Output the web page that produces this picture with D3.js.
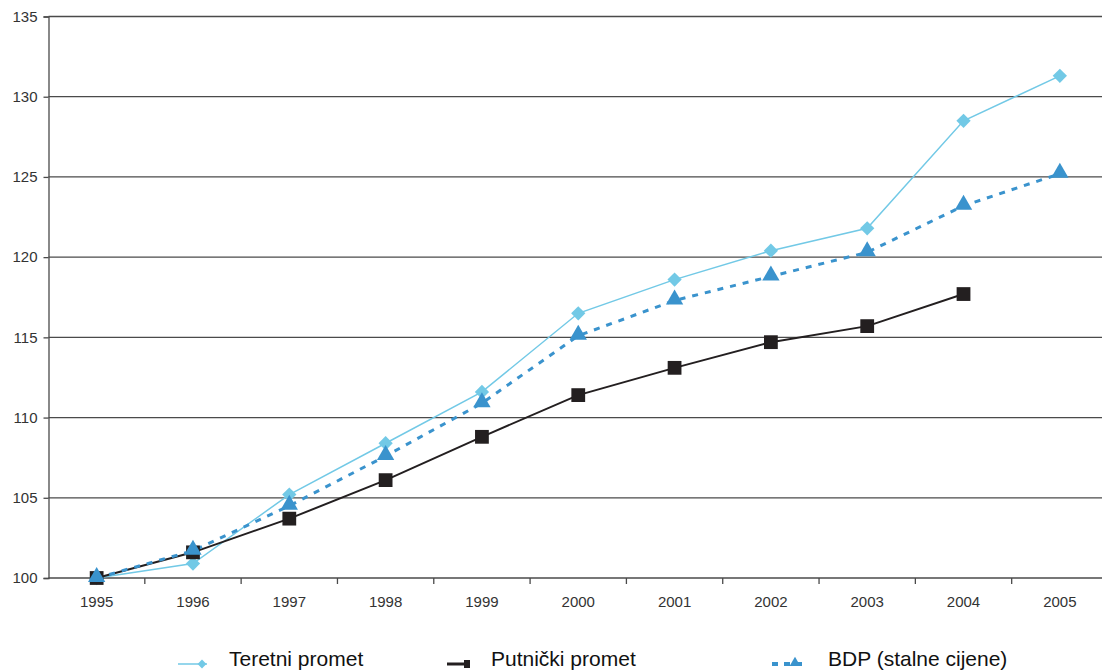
<!DOCTYPE html>
<html><head><meta charset="utf-8">
<script src="https://cdn.jsdelivr.net/npm/d3@7"></script>
<style>body{margin:0;background:#fff;overflow:hidden}svg{display:block;font-family:"Liberation Sans",Arial,sans-serif}</style>
</head><body><svg id="c" width="1102" height="671"></svg>
<script>
const years = ["1995","1996","1997","1998","1999","2000","2001","2002","2003","2004","2005"];
const teretni = [100, 100.9, 105.2, 108.4, 111.6, 116.5, 118.6, 120.4, 121.8, 128.5, 131.3];
const putnicki = [100, 101.6, 103.7, 106.1, 108.8, 111.4, 113.1, 114.7, 115.7, 117.7, null];
const bdp = [100, 101.7, 104.5, 107.6, 110.9, 115.1, 117.3, 118.8, 120.3, 123.2, 125.2];
const yTicks = [100, 105, 110, 115, 120, 125, 130, 135];
const seriesNames = ["Teretni promet", "Putnički promet", "BDP (stalne cijene)"];

const svg = d3.select("#c");
const x = d3.scaleBand().domain(years).range([48.5, 1108]);
const y = d3.scaleLinear().domain([100, 135]).range([578, 16.5]);
const cx = d => x(d) + x.bandwidth() / 2;

// gridlines
svg.append("g").selectAll("line").data(yTicks).join("line")
  .attr("x1", 48.5).attr("x2", 1108)
  .attr("y1", d => y(d)).attr("y2", d => y(d))
  .attr("stroke", "#4a4a4a").attr("stroke-width", 1.3);

// y axis
const ya = svg.append("g").attr("transform", "translate(48.5,0)")
  .call(d3.axisLeft(y).tickValues(yTicks).tickSize(5).tickPadding(6).tickFormat(d3.format("d")));
ya.select(".domain").attr("stroke", "#4a4a4a").attr("stroke-width", 1.3);
ya.selectAll(".tick line").attr("stroke", "#4a4a4a").attr("stroke-width", 1.3);
ya.selectAll("text").attr("font-size", 15).attr("fill", "#333").attr("font-family", "Liberation Sans, Arial, sans-serif");

// x axis
const xa = svg.append("g").attr("transform", "translate(0,578)")
  .call(d3.axisBottom(x).tickSize(0).tickPadding(18));
xa.select(".domain").remove();
xa.selectAll("text").attr("font-size", 15).attr("fill", "#333").attr("font-family", "Liberation Sans, Arial, sans-serif");
// boundary ticks
svg.append("g").selectAll("line").data(years.slice(1)).join("line")
  .attr("x1", d => x(d)).attr("x2", d => x(d)).attr("y1", 578).attr("y2", 584)
  .attr("stroke", "#4a4a4a").attr("stroke-width", 1.3);

const colT = "#72c9e6", colP = "#231f20", colB = "#3a93cd";

const line = d3.line().defined(d => d[1] != null).x(d => cx(d[0])).y(d => y(d[1]));
const zip = arr => years.map((yr, i) => [yr, arr[i]]);

svg.append("path").datum(zip(teretni)).attr("d", line)
  .attr("fill", "none").attr("stroke", colT).attr("stroke-width", 1.5);
svg.append("path").datum(zip(putnicki)).attr("d", line)
  .attr("fill", "none").attr("stroke", colP).attr("stroke-width", 2);
svg.append("path").datum(zip(bdp)).attr("d", line)
  .attr("fill", "none").attr("stroke", colB).attr("stroke-width", 3).attr("stroke-dasharray", "6,7");

const diamond = d3.symbol().type(d3.symbolDiamond2).size(130);
const square = d3.symbol().type(d3.symbolSquare).size(190);
const tri = d3.symbol().type(d3.symbolTriangle).size(130);

svg.append("g").selectAll("path").data(zip(teretni)).join("path")
  .attr("d", diamond).attr("transform", d => `translate(${cx(d[0])},${y(d[1])})`).attr("fill", colT);
svg.append("g").selectAll("path").data(zip(putnicki).filter(d => d[1] != null)).join("path")
  .attr("d", square).attr("transform", d => `translate(${cx(d[0])},${y(d[1])})`).attr("fill", colP);
svg.append("g").selectAll("path").data(zip(bdp)).join("path")
  .attr("d", tri).attr("transform", d => `translate(${cx(d[0])},${y(d[1]) - 1})`).attr("fill", colB);

// legend
const ly = 664;
const lg = svg.append("g");
lg.append("line").attr("x1", 178).attr("x2", 207).attr("y1", ly).attr("y2", ly).attr("stroke", colT).attr("stroke-width", 1.5);
lg.append("path").attr("d", d3.symbol().type(d3.symbolDiamond2).size(50)).attr("transform", `translate(202,${ly})`).attr("fill", colT);
lg.append("text").attr("x", 229).attr("y", 666).text(seriesNames[0]);

lg.append("line").attr("x1", 447).attr("x2", 470).attr("y1", ly).attr("y2", ly).attr("stroke", colP).attr("stroke-width", 3);
lg.append("rect").attr("x", 464).attr("y", ly - 4).attr("width", 6).attr("height", 8).attr("fill", colP);
lg.append("text").attr("x", 491).attr("y", 666).text(seriesNames[1]);

lg.append("line").attr("x1", 772).attr("x2", 808).attr("y1", ly).attr("y2", ly).attr("stroke", colB).attr("stroke-width", 4).attr("stroke-dasharray", "6,6");
lg.append("path").attr("d", d3.symbol().type(d3.symbolTriangle).size(50)).attr("transform", `translate(795,${ly - 1})`).attr("fill", colB);
lg.append("text").attr("x", 828).attr("y", 666).text(seriesNames[2]);
lg.selectAll("text").attr("font-size", 21).attr("fill", "#111");
</script></body></html>
